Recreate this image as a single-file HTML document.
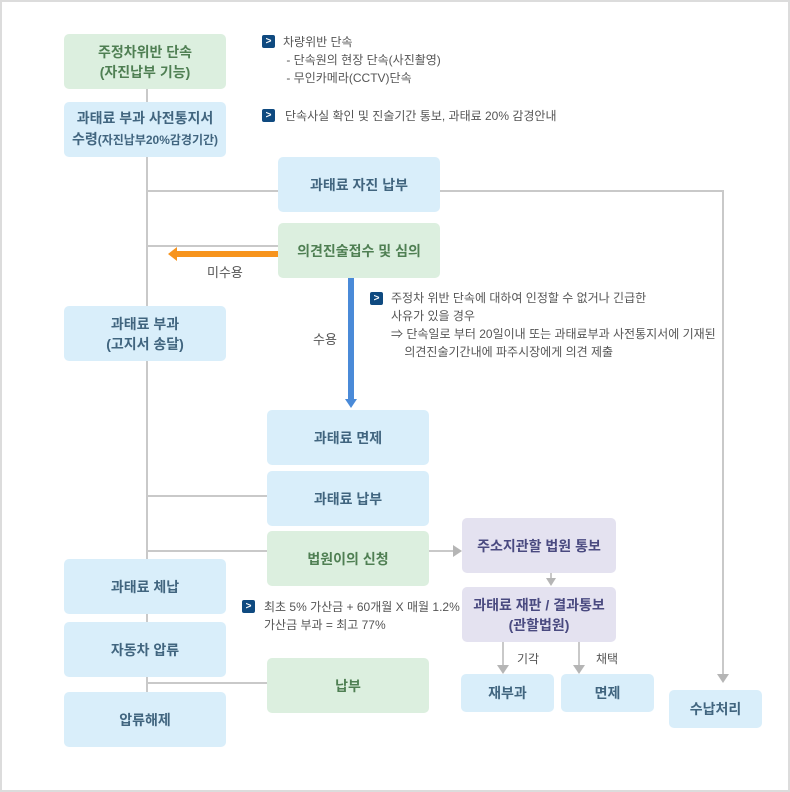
<!DOCTYPE html>
<html><head><meta charset="utf-8"><style>
*{margin:0;padding:0;box-sizing:border-box}
body{width:790px;height:792px;background:#fff;position:relative;overflow:hidden;font-family:"Liberation Sans","Noto Sans CJK KR",sans-serif}
.frame{position:absolute;left:0;top:0;width:790px;height:792px;border:2px solid #dcdcdc}
.b{position:absolute;border-radius:5px;display:flex;align-items:center;justify-content:center;text-align:center;font-size:14px;line-height:20px;font-weight:bold}
.g{background:#dcefdf;color:#4f7f53}
.u{background:#d9eefa;color:#41657f}
.p{background:#e4e2f0;color:#4a4a80}
.l{position:absolute;background:#c9c9c9}
.t{position:absolute;font-size:12px;color:#555;line-height:18px;white-space:nowrap}
.ic{position:absolute;width:13px;height:13px;background:#0f4a80;border-radius:2px;color:#fff;font-size:10px;font-weight:bold;line-height:13px;text-align:center}
.ah{position:absolute;width:0;height:0;z-index:5}
</style></head><body>
<div class="frame"></div>

<!-- lines -->
<div class="l" style="left:146px;top:89px;width:2px;height:632px"></div>
<div class="l" style="left:147px;top:190px;width:131px;height:2px"></div>
<div class="l" style="left:440px;top:190px;width:284px;height:2px"></div>
<div class="l" style="left:722px;top:190px;width:2px;height:485px"></div>
<div class="ah" style="left:717px;top:674px;border-left:6px solid transparent;border-right:6px solid transparent;border-top:9px solid #b5b5b5"></div>
<div class="l" style="left:147px;top:245px;width:131px;height:2px"></div>
<div class="l" style="left:147px;top:495px;width:120px;height:2px"></div>
<div class="l" style="left:147px;top:550px;width:120px;height:2px"></div>
<div class="l" style="left:147px;top:682px;width:120px;height:2px"></div>
<div class="l" style="left:429px;top:550px;width:26px;height:2px"></div>
<div class="ah" style="left:453px;top:545px;border-top:6px solid transparent;border-bottom:6px solid transparent;border-left:9px solid #b5b5b5"></div>
<div class="l" style="left:550px;top:573px;width:2px;height:6px"></div>
<div class="ah" style="left:546px;top:578px;border-left:5px solid transparent;border-right:5px solid transparent;border-top:8px solid #b5b5b5"></div>
<div class="l" style="left:502px;top:642px;width:2px;height:24px"></div>
<div class="ah" style="left:497px;top:665px;border-left:6px solid transparent;border-right:6px solid transparent;border-top:9px solid #b5b5b5"></div>
<div class="l" style="left:578px;top:642px;width:2px;height:24px"></div>
<div class="ah" style="left:573px;top:665px;border-left:6px solid transparent;border-right:6px solid transparent;border-top:9px solid #b5b5b5"></div>

<!-- orange arrow -->
<div style="position:absolute;left:176px;top:251px;width:102px;height:6px;background:#f7941d"></div>
<div class="ah" style="left:168px;top:247px;border-top:7px solid transparent;border-bottom:7px solid transparent;border-right:9px solid #f7941d"></div>
<!-- blue arrow -->
<div style="position:absolute;left:348px;top:278px;width:6px;height:122px;background:#4a8ad8"></div>
<div class="ah" style="left:345px;top:399px;border-left:6px solid transparent;border-right:6px solid transparent;border-top:9px solid #4a8ad8"></div>

<!-- boxes -->
<div class="b g" style="left:64px;top:34px;width:162px;height:55px">주정차위반 단속<br>(자진납부 기능)</div>
<div class="b u" style="left:64px;top:102px;width:162px;height:55px"><div style="line-height:21px">과태료 부과 사전통지서<br>수령<span style="font-size:12px">(자진납부20%감경기간)</span></div></div>
<div class="b u" style="left:278px;top:157px;width:162px;height:55px">과태료 자진 납부</div>
<div class="b g" style="left:278px;top:223px;width:162px;height:55px">의견진술접수 및 심의</div>
<div class="b u" style="left:64px;top:306px;width:162px;height:55px">과태료 부과<br>(고지서 송달)</div>
<div class="b u" style="left:267px;top:410px;width:162px;height:55px">과태료 면제</div>
<div class="b u" style="left:267px;top:471px;width:162px;height:55px">과태료 납부</div>
<div class="b g" style="left:267px;top:531px;width:162px;height:55px">법원이의 신청</div>
<div class="b p" style="left:462px;top:518px;width:154px;height:55px">주소지관할 법원 통보</div>
<div class="b p" style="left:462px;top:587px;width:154px;height:55px">과태료 재판 / 결과통보<br>(관할법원)</div>
<div class="b u" style="left:461px;top:674px;width:93px;height:38px">재부과</div>
<div class="b u" style="left:561px;top:674px;width:93px;height:38px">면제</div>
<div class="b u" style="left:669px;top:690px;width:93px;height:38px">수납처리</div>
<div class="b u" style="left:64px;top:559px;width:162px;height:55px">과태료 체납</div>
<div class="b u" style="left:64px;top:622px;width:162px;height:55px">자동차 압류</div>
<div class="b g" style="left:267px;top:658px;width:162px;height:55px">납부</div>
<div class="b u" style="left:64px;top:692px;width:162px;height:55px">압류해제</div>

<!-- notes -->
<div class="ic" style="left:262px;top:35px">&gt;</div>
<div class="t" style="left:283px;top:33px">차량위반 단속<br>&nbsp;- 단속원의 현장 단속(사진촬영)<br>&nbsp;- 무인카메라(CCTV)단속</div>
<div class="ic" style="left:262px;top:109px">&gt;</div>
<div class="t" style="left:285px;top:107px">단속사실 확인 및 진술기간 통보, 과태료 20% 감경안내</div>
<div class="ic" style="left:370px;top:292px">&gt;</div>
<div class="t" style="left:391px;top:289px">주정차 위반 단속에 대하여 인정할 수 없거나 긴급한<br>사유가 있을 경우<br>⇒ 단속일로 부터 20일이내 또는 과태료부과 사전통지서에 기재된<br>&nbsp;&nbsp;&nbsp;&nbsp;의견진술기간내에 파주시장에게 의견 제출</div>
<div class="ic" style="left:242px;top:600px">&gt;</div>
<div class="t" style="left:264px;top:598px">최초 5% 가산금 + 60개월 X 매월 1.2%<br>가산금 부과 = 최고 77%</div>

<div class="t" style="left:207px;top:264px;font-size:13px">미수용</div>
<div class="t" style="left:313px;top:331px;font-size:13px">수용</div>
<div class="t" style="left:517px;top:650px">기각</div>
<div class="t" style="left:596px;top:650px">채택</div>
</body></html>
